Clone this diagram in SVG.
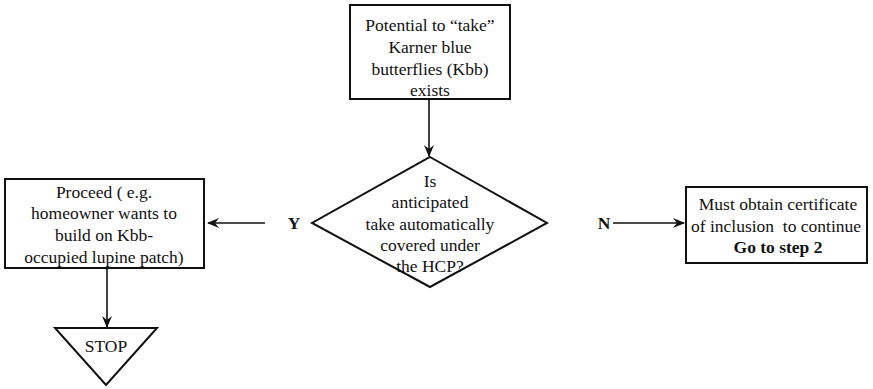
<svg xmlns="http://www.w3.org/2000/svg" width="873" height="389" viewBox="0 0 873 389">
<style>
.box{fill:#fff;stroke:#111;stroke-width:2}
text{font-family:'Liberation Serif','Times New Roman',Times,serif;font-size:17.5px;fill:#111;text-anchor:middle}
.b{font-weight:bold}
.c{stroke:#111;stroke-width:1.6;fill:none}
</style>
<defs>
<marker id="ah" viewBox="0 0 12 10" refX="11" refY="5" markerWidth="12" markerHeight="10" markerUnits="userSpaceOnUse" orient="auto">
<path d="M0,0 L12,5 L0,10 L4,5 z" fill="#111"/>
</marker>
</defs>
<rect width="873" height="389" fill="#fff"/>
<g id="connectors">
<line class="c" x1="429" y1="99" x2="429" y2="156" marker-end="url(#ah)"/>
<line class="c" x1="265" y1="223" x2="208" y2="223" marker-end="url(#ah)"/>
<line class="c" x1="613" y1="223" x2="684" y2="223" marker-end="url(#ah)"/>
<line class="c" x1="107" y1="268" x2="107" y2="327" marker-end="url(#ah)"/>
</g>
<g id="start">
<rect class="box" x="350" y="5" width="160" height="94"/>
<text x="430" y="31">Potential to “take”</text>
<text x="430" y="53">Karner blue</text>
<text x="430" y="75">butterflies (Kbb)</text>
<text x="430" y="96">exists</text>
</g>
<g id="decision">
<polygon class="box" points="430,157 547,223 430,287 312,223"/>
<text x="430" y="187">Is</text>
<text x="430" y="208">anticipated</text>
<text x="430" y="230">take automatically</text>
<text x="430" y="251">covered under</text>
<text x="430" y="272">the HCP?</text>
</g>
<g id="label-y"><text class="b" x="294" y="229">Y</text></g>
<g id="label-n"><text class="b" x="604" y="229">N</text></g>
<g id="proceed">
<rect class="box" x="5" y="179" width="199" height="89"/>
<text x="104" y="198">Proceed ( e.g.</text>
<text x="104" y="219">homeowner wants to</text>
<text x="104" y="241">build on Kbb-</text>
<text x="104" y="263">occupied lupine patch)</text>
</g>
<g id="certificate">
<rect class="box" x="686" y="187" width="181" height="76"/>
<text x="778" y="210">Must obtain certificate</text>
<text x="776" y="232" xml:space="preserve">of inclusion  to continue</text>
<text class="b" x="778" y="253">Go to step 2</text>
</g>
<g id="stop">
<polygon class="box" points="55,328 157,328 106,385"/>
<text x="106" y="352">STOP</text>
</g>
</svg>
